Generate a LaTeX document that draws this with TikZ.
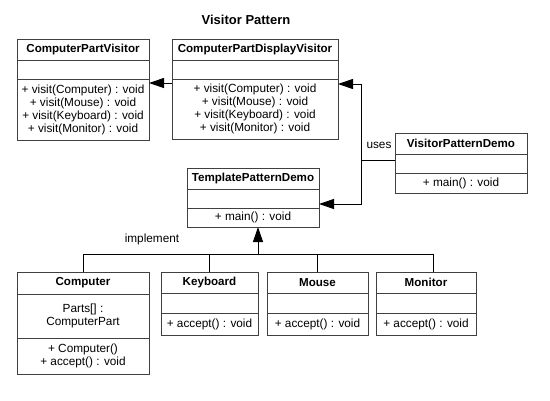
\documentclass[tikz,border=0pt]{standalone}
\usepackage{fontspec}
\setmainfont{Liberation Sans}
\usetikzlibrary{positioning, arrows.meta}

\begin{document}
\begin{tikzpicture}[x=1pt, y=-1pt,
    font=\fontsize{11.8}{13}\selectfont,
    part/.style={draw=black!75, line width=1pt, outer sep=0pt, inner sep=2pt, align=center, anchor=north west},
    head/.style={part, font=\fontsize{11.6}{13}\selectfont\bfseries},
    link/.style={draw=black, line width=1pt},
    tip/.style={link, -{Triangle[length=15pt, width=10pt]}}]
    \useasboundingbox (0,0) rectangle (550,400);

    % --- 1. 標題 ---
    \node[font=\fontsize{13}{15}\selectfont\bfseries] (title) at (246,20) {Visitor Pattern};

    % --- 2. Visitor 介面與實作 ---
    \node[head, minimum width=132pt, minimum height=21pt] (cpv) at (17,39) {ComputerPartVisitor};
    \node[part, minimum width=132pt, minimum height=19pt, below=0pt of cpv] (cpv-a) {};
    \node[part, minimum width=132pt, minimum height=61pt, below=0pt of cpv-a] (cpv-m)
        {+ visit(Computer) : void\\+ visit(Mouse) : void\\+ visit(Keyboard) : void\\+ visit(Monitor) : void};

    \node[head, minimum width=166pt, minimum height=21pt] (cpdv) at (172,39) {ComputerPartDisplayVisitor};
    \node[part, minimum width=166pt, minimum height=19pt, below=0pt of cpdv] (cpdv-a) {};
    \node[part, minimum width=166pt, minimum height=60pt, below=0pt of cpdv-a] (cpdv-m)
        {+ visit(Computer) : void\\+ visit(Mouse) : void\\+ visit(Keyboard) : void\\+ visit(Monitor) : void};

    % --- 3. Demo 類別 ---
    \node[head, minimum width=132pt, minimum height=21pt] (vpd) at (395,133) {VisitorPatternDemo};
    \node[part, minimum width=132pt, minimum height=19pt, below=0pt of vpd] (vpd-a) {};
    \node[part, minimum width=132pt, minimum height=20pt, below=0pt of vpd-a] (vpd-m) {+ main() : void};

    \node[head, minimum width=132pt, minimum height=21pt] (tpd) at (187,168) {TemplatePatternDemo};
    \node[part, minimum width=132pt, minimum height=19pt, below=0pt of tpd] (tpd-a) {};
    \node[part, minimum width=132pt, minimum height=19pt, below=0pt of tpd-a] (tpd-m) {+ main() : void};

    % --- 4. ComputerPart 元件 ---
    \node[head, minimum width=132pt, minimum height=22pt] (comp) at (17,272) {Computer};
    \node[part, minimum width=132pt, minimum height=44pt, below=0pt of comp] (comp-a) {Parts[] :\\ComputerPart};
    \node[part, minimum width=132pt, minimum height=36pt, below=0pt of comp-a] (comp-m) {+ Computer()\\+ accept() : void};

    \node[head, minimum width=97pt, minimum height=21pt] (kbd) at (161,272) {Keyboard};
    \node[part, minimum width=97pt, minimum height=20pt, below=0pt of kbd] (kbd-a) {};
    \node[part, minimum width=97pt, minimum height=22pt, below=0pt of kbd-a] (kbd-m) {+ accept() : void};

    \node[head, minimum width=101pt, minimum height=21pt] (mouse) at (267,272) {Mouse};
    \node[part, minimum width=101pt, minimum height=20pt, below=0pt of mouse] (mouse-a) {};
    \node[part, minimum width=101pt, minimum height=22pt, below=0pt of mouse-a] (mouse-m) {+ accept() : void};

    \node[head, minimum width=100pt, minimum height=21pt] (mon) at (376,272) {Monitor};
    \node[part, minimum width=100pt, minimum height=20pt, below=0pt of mon] (mon-a) {};
    \node[part, minimum width=100pt, minimum height=22pt, below=0pt of mon-a] (mon-m) {+ accept() : void};

    % --- 5. 連線 ---
    \draw[tip] ([yshift=-4pt]cpdv-m.north west) -- ([yshift=-4pt]cpv-m.north east);

    \coordinate (joint) at (361,160);
    \draw[link] (vpd-a.west |- joint) -- (joint);
    \draw[tip] (joint) |- ([yshift=-5pt]cpdv-m.north east);
    \draw[tip] (joint) |- ([yshift=4pt]tpd-m.north east);
    \node (uses) at (379,145) {uses};

    \coordinate (bus) at (258,254);
    \draw[tip] (bus) -- (bus |- tpd-m.south);
    \draw[link] (comp.north) |- (bus);
    \draw[link] (kbd.north) |- (bus);
    \draw[link] (mouse.north) |- (bus);
    \draw[link] ([xshift=7pt]mon.north) |- (bus);
    \node (impl) at (152,239) {implement};

\end{tikzpicture}
\end{document}
